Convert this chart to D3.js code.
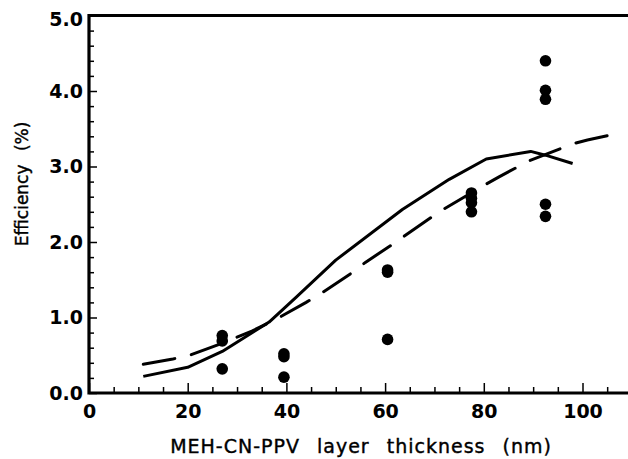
<!DOCTYPE html>
<html>
<head>
<meta charset="utf-8">
<script src="https://cdn.jsdelivr.net/npm/d3@7"></script>
<style>
body { margin: 0; background: white; }
.tick text { font-family: "DejaVu Sans", sans-serif; font-weight: bold; font-size: 19px; fill: black; }
.title { font-family: "DejaVu Sans", sans-serif; fill: black; stroke: black; stroke-width: 0.4; }
</style>
</head>
<body>
<script>
// measured points (thickness nm, efficiency %)
const pointX = [27, 27, 27, 39.5, 39.5, 39.5, 60.5, 60.5, 60.5, 77.5, 77.5, 77.5, 77.5, 92.5, 92.5, 92.5, 92.5, 92.5];
const pointY = [0.76, 0.69, 0.32, 0.52, 0.48, 0.21, 1.63, 1.6, 0.71, 2.65, 2.58, 2.52, 2.4, 4.4, 4.01, 3.89, 2.5, 2.34];

// solid model curve
const solidX = [11, 20, 27, 36.5, 42, 50, 63.5, 73, 80.5, 89.5, 92.5, 98];
const solidY = [0.22, 0.34, 0.55, 0.94, 1.27, 1.76, 2.43, 2.83, 3.1, 3.2, 3.15, 3.04];

// dashed model curve
const dashX = [11, 17, 20, 27, 33, 38, 44, 47.5, 53, 56, 62, 65, 71, 80, 83, 89, 98, 101, 108];
const dashY = [0.38, 0.45, 0.49, 0.66, 0.82, 0.98, 1.2, 1.34, 1.58, 1.73, 1.99, 2.13, 2.4, 2.75, 2.86, 3.07, 3.3, 3.35, 3.45];

const xMajor = [0, 20, 40, 60, 80, 100];
const yMajor = [0, 1, 2, 3, 4, 5];

const W = 628, H = 459;
const margin = {top: 15.5, right: 0, bottom: 66, left: 89};
const width = W - margin.left - margin.right;
const height = H - margin.top - margin.bottom;

const svg = d3.select("body").append("svg").attr("width", W).attr("height", H);
const g = svg.append("g").attr("transform", `translate(${margin.left},${margin.top})`);

const x = d3.scaleLinear().domain([0, width / 4.935]).range([0, width]);
const y = d3.scaleLinear().domain([0, 5]).range([height, 0]);

// minor ticks
const xMinor = d3.range(0, 110, 5).filter(v => v % 20 !== 0);
const yMinor = d3.range(0, 5.01, 0.2).map(v => +v.toFixed(1)).filter(v => v % 1 !== 0);

g.append("g").attr("transform", `translate(0,${height})`)
  .call(d3.axisTop(x).tickValues(xMinor).tickSize(6).tickFormat(""))
  .call(a => a.select(".domain").remove())
  .selectAll("line").attr("stroke", "black").attr("stroke-width", 1.5);

g.append("g")
  .call(d3.axisRight(y).tickValues(yMinor).tickSize(5).tickFormat(""))
  .call(a => a.select(".domain").remove())
  .selectAll("line").attr("stroke", "black").attr("stroke-width", 1.5);

const xAxis = g.append("g").attr("transform", `translate(0,${height})`)
  .call(d3.axisBottom(x).tickValues(xMajor).tickSize(0).tickPadding(12).tickFormat(d3.format("d")));
xAxis.select(".domain").remove();
g.append("g").attr("transform", `translate(0,${height})`)
  .call(d3.axisTop(x).tickValues(xMajor).tickSize(10).tickFormat(""))
  .call(a => a.select(".domain").remove())
  .selectAll("line").attr("stroke", "black").attr("stroke-width", 1.5);

const yAxis = g.append("g")
  .call(d3.axisLeft(y).tickValues(yMajor).tickSize(0).tickPadding(6).tickFormat(d3.format(".1f")));
yAxis.select(".domain").remove();
// top label sits a bit lower so it stays on the page
yAxis.selectAll(".tick text").filter(d => d === 5).attr("dy", "0.55em");
g.append("g")
  .call(d3.axisRight(y).tickValues(yMajor).tickSize(8).tickFormat(""))
  .call(a => a.select(".domain").remove())
  .selectAll("line").attr("stroke", "black").attr("stroke-width", 1.5);

// frame: left, bottom, top
g.append("path")
  .attr("d", `M${width},0H0V${height}H${width}`)
  .attr("fill", "none").attr("stroke", "black").attr("stroke-width", 3.2);

const line = d3.line().x(d => x(d[0])).y(d => y(d[1]));

g.append("path")
  .attr("d", line(d3.zip(solidX, solidY)))
  .attr("fill", "none").attr("stroke", "black").attr("stroke-width", 3)
  .attr("stroke-linejoin", "round");

g.append("path")
  .attr("d", line(d3.zip(dashX, dashY)))
  .attr("fill", "none").attr("stroke", "black").attr("stroke-width", 3)
  .attr("stroke-dasharray", "32,17").attr("stroke-linecap", "round");

g.selectAll("circle").data(d3.zip(pointX, pointY)).enter()
  .append("circle")
  .attr("cx", d => x(d[0])).attr("cy", d => y(d[1])).attr("r", 5.8)
  .attr("fill", "black");

svg.append("text").attr("class", "title")
  .attr("x", 361).attr("y", 453)
  .attr("text-anchor", "middle")
  .attr("font-size", 19)
  .attr("letter-spacing", 1).attr("word-spacing", 10)
  .text("MEH-CN-PPV layer thickness (nm)");

svg.append("text").attr("class", "title")
  .attr("transform", `translate(28,184) rotate(-90)`)
  .attr("text-anchor", "middle")
  .attr("font-size", 17)
  .attr("word-spacing", 8)
  .text("Efficiency (%)");
</script>
</body>
</html>
